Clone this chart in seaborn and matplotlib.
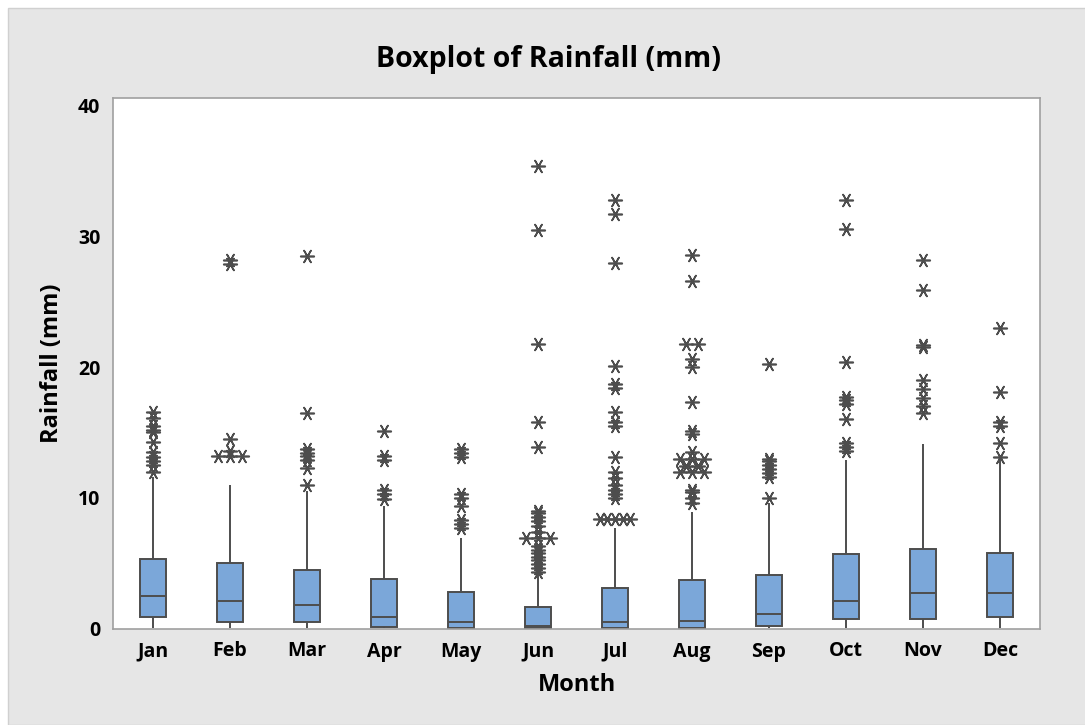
import matplotlib
matplotlib.use('Agg')  # Use non-interactive backend
import matplotlib.pyplot as plt
from matplotlib.patches import Rectangle
import pandas as pd
import seaborn as sns

months = ['Jan', 'Feb', 'Mar', 'Apr', 'May', 'Jun',
          'Jul', 'Aug', 'Sep', 'Oct', 'Nov', 'Dec']

# five-number summaries
whisker_low = [0, 0, 0, 0, 0, 0, 0, 0, 0, 0, 0, 0]
q1 = [0.9, 0.5, 0.5, 0.1, 0.05, 0.05, 0.05, 0.05, 0.15, 0.7, 0.7, 0.9]
median = [2.5, 2.06, 1.8, 0.9, 0.5, 0.15, 0.5, 0.6, 1.07, 2.06, 2.7, 2.7]
q3 = [5.3, 4.97, 4.5, 3.8, 2.8, 1.6, 3.06, 3.7, 4.05, 5.7, 6.1, 5.8]
whisker_high = [11.6, 11.0, 10.5, 9.4, 6.9, 4.1, 7.7, 8.9, 9.6, 12.9, 14.1, 13.1]

outliers = {
    'Jan': [12.0, 12.5, 12.8, 13.1, 13.5, 14.3, 15.0, 15.2, 15.5, 16.1, 16.6],
    'Feb': [13.2, 13.2, 13.2, 13.6, 14.5, 27.9, 28.2],
    'Mar': [11.0, 12.3, 12.9, 13.2, 13.4, 13.7, 16.5, 28.5],
    'Apr': [9.9, 10.3, 10.6, 12.9, 13.2, 15.1],
    'May': [7.7, 8.0, 8.3, 9.4, 10.0, 10.3, 13.1, 13.4, 13.7],
    'Jun': [4.3, 4.6, 4.9, 5.2, 5.5, 5.8, 6.0, 6.3, 6.9, 6.9, 6.9, 7.4,
            7.8, 8.2, 8.5, 8.8, 9.0, 13.9, 15.8, 21.8, 30.5, 35.4],
    'Jul': [8.4, 8.4, 8.4, 8.4, 8.4, 10.0, 10.3, 10.6, 11.0, 11.5, 12.0,
            13.1, 15.5, 15.8, 16.6, 18.4, 18.7, 20.1, 28.0, 31.7, 32.8],
    'Aug': [9.6, 10.0, 10.4, 10.6, 12.0, 12.0, 12.0, 12.4, 12.4, 13.0,
            13.0, 13.0, 13.5, 14.9, 15.1, 17.3, 20.0, 20.6, 21.8, 21.8,
            26.6, 28.6],
    'Sep': [10.0, 11.6, 11.9, 12.2, 12.5, 12.8, 13.0, 20.2],
    'Oct': [13.6, 13.9, 14.2, 16.0, 17.2, 17.5, 17.7, 20.4, 30.6, 32.8],
    'Nov': [16.5, 17.0, 17.6, 18.3, 19.0, 21.5, 21.7, 25.9, 28.2],
    'Dec': [13.1, 14.2, 15.5, 15.8, 18.1, 23.0],
}

# long table of the summaries, one row per value
rows = []
for i, m in enumerate(months):
    for v in (whisker_low[i], q1[i], median[i], q3[i], whisker_high[i]):
        rows.append({'Month': m, 'Rainfall': v})
box_df = pd.DataFrame(rows)

# outliers, ties placed side by side like Minitab does
out_rows = []
for i, m in enumerate(months):
    vals = outliers[m]
    for v in sorted(set(vals)):
        k = vals.count(v)
        step = 0.16 if k <= 3 else 0.1
        for j in range(k):
            out_rows.append({'x': i + (j - (k - 1) / 2) * step, 'Rainfall': v})
out_df = pd.DataFrame(out_rows)

sns.set_style('white')
plt.rcParams['font.family'] = ['Open Sans', 'DejaVu Sans']
plt.rcParams['text.color'] = 'black'
plt.rcParams['axes.labelcolor'] = 'black'

edge = '#4d4d4d'
fig = plt.figure(figsize=(10.85, 7.25), dpi=100)
fig.patches.append(Rectangle((8 / 1085, 0), 1, 1 - 8 / 725,
                             transform=fig.transFigure, facecolor='#e6e6e6',
                             edgecolor='#d0d0d0', linewidth=1, zorder=-10))
ax = fig.add_axes([113 / 1085, 1 - 629 / 725, 927 / 1085, 531 / 725])

sns.boxplot(data=box_df, x='Month', y='Rainfall', order=months, ax=ax,
            whis=(0, 100), showfliers=False, showcaps=False, width=0.33,
            color='#7ba7d9', saturation=1, linecolor=edge, linewidth=1.4)
sns.scatterplot(data=out_df, x='x', y='Rainfall', ax=ax, marker=(6, 2, 90),
                s=95, color=edge, edgecolor=edge, linewidth=1.2, zorder=5)

ax.set_xlim(-0.52, 11.52)
ax.set_ylim(-0.05, 40.6)
ax.set_yticks([0, 10, 20, 30, 40])
ax.set_xticks(range(len(months)))
ax.set_xticklabels(months)
for s in ax.spines.values():
    s.set_color('#a0a0a0')
    s.set_linewidth(1.2)
ax.tick_params(axis='both', length=5, color='#a0a0a0', width=1,
               labelsize=14, pad=4, labelcolor='black')
for lab in ax.get_xticklabels() + ax.get_yticklabels():
    lab.set_fontweight('bold')

ax.set_xlabel('Month', fontsize=17, fontweight='bold', labelpad=8)
ax.set_ylabel('Rainfall (mm)', fontsize=17, fontweight='bold', labelpad=10)
fig.text(548 / 1085, 1 - 60 / 725, 'Boxplot of Rainfall (mm)', ha='center',
         va='center', fontsize=20.5, fontweight='bold')

fig.savefig('out.png', dpi=100, facecolor='white')
